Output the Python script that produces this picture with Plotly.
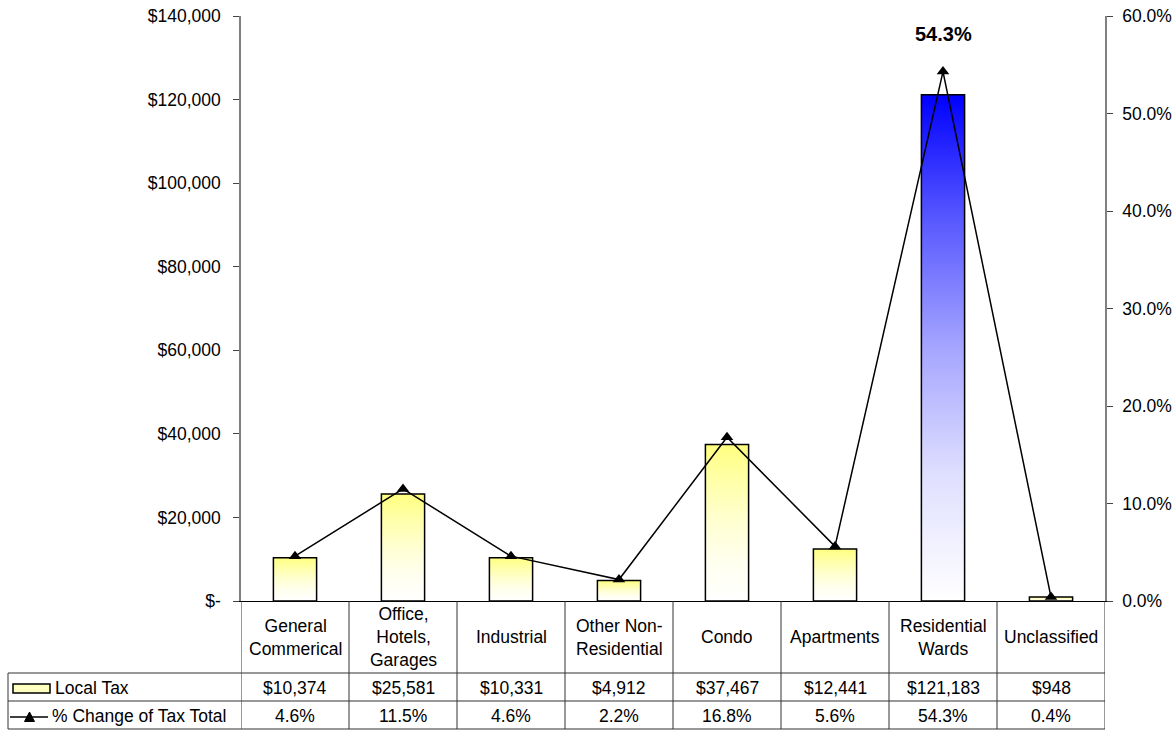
import plotly.graph_objects as go

# ---------------- data ----------------
categories = ["General<br>Commerical", "Office,<br>Hotels,<br>Garages", "Industrial",
              "Other Non-<br>Residential", "Condo", "Apartments",
              "Residential<br>Wards", "Unclassified"]
local_tax = [10374, 25581, 10331, 4912, 37467, 12441, 121183, 948]
pct_change = [0.046, 0.115, 0.046, 0.022, 0.168, 0.056, 0.543, 0.004]
series_names = ["Local Tax", "% Change of Tax Total"]
left_tickvals = [0, 20000, 40000, 60000, 80000, 100000, 120000, 140000]
left_ticktext = ["$-", "$20,000", "$40,000", "$60,000", "$80,000", "$100,000", "$120,000", "$140,000"]

# ---------------- layout constants ----------------
W, H = 1174, 730
L, R, T, B = 241, 1105, 16, 601
FONT = "Liberation Sans, Arial, sans-serif"
FS = 17.5

def px(xp):
    return (xp - L) / (R - L)

def py(yp):
    return (B - yp) / (B - T)

YELLOW_SCALE = [[0, "rgb(255,255,255)"], [0.25, "rgb(255,255,239)"], [0.5, "rgb(255,255,210)"],
                [0.75, "rgb(255,255,172)"], [1, "rgb(255,255,128)"]]
BLUE_SCALE = [[0, "rgb(255,255,255)"], [0.25, "rgb(223,223,255)"], [0.5, "rgb(165,165,255)"],
              [0.75, "rgb(89,89,255)"], [1, "rgb(0,0,255)"]]

fig = go.Figure()

n = len(categories)
hi = local_tax.index(max(local_tax))
half = 0.2
for i, v in enumerate(local_tax):
    fig.add_trace(go.Scatter(
        x=[i - half, i - half, i + half, i + half, i - half],
        y=[0, v, v, 0, 0],
        mode="lines", fill="toself",
        fillgradient=dict(type="vertical", colorscale=BLUE_SCALE if i == hi else YELLOW_SCALE),
        line=dict(color="black", width=1.5),
        hoverinfo="skip", showlegend=False,
    ))

fig.add_trace(go.Scatter(
    x=list(range(n)), y=pct_change, yaxis="y2", mode="lines+markers",
    name=series_names[1],
    line=dict(color="black", width=1.5),
    marker=dict(symbol="triangle-up", size=11, color="black"),
    showlegend=False,
))

pi = pct_change.index(max(pct_change))
annotations = [dict(x=pi, y=pct_change[pi], xref="x", yref="y2", yshift=38, yanchor="middle",
                    text="<b>%.1f%%</b>" % (pct_change[pi] * 100), showarrow=False,
                    font=dict(family=FONT, size=20, color="black"))]

shapes = []
LC = "#333333"
# vertical table lines
for k in range(n + 1):
    shapes.append(dict(type="line", xref="x", yref="paper", x0=k - 0.5, x1=k - 0.5,
                       y0=0, y1=py(729), line=dict(color=LC, width=1)))
# horizontal table lines
for yy in (673, 701, 729):
    shapes.append(dict(type="line", xref="paper", yref="paper", x0=px(8), x1=1,
                       y0=py(yy), y1=py(yy), line=dict(color=LC, width=1)))
shapes.append(dict(type="line", xref="paper", yref="paper", x0=px(8), x1=px(8),
                   y0=py(673), y1=py(729), line=dict(color=LC, width=1)))

# category labels and values
for i in range(n):
    annotations.append(dict(x=i, y=py(637), xref="x", yref="paper", text=categories[i],
                            xanchor="center", yanchor="middle", showarrow=False,
                            font=dict(family=FONT, size=FS, color="black")))
    annotations.append(dict(x=i, y=py(687.5), xref="x", yref="paper", text="${:,}".format(local_tax[i]),
                            xanchor="center", yanchor="middle", showarrow=False,
                            font=dict(family=FONT, size=FS, color="black")))
    annotations.append(dict(x=i, y=py(715.5), xref="x", yref="paper", text="{:.1f}%".format(pct_change[i] * 100),
                            xanchor="center", yanchor="middle", showarrow=False,
                            font=dict(family=FONT, size=FS, color="black")))

# legend keys
shapes.append(dict(type="rect", xref="paper", yref="paper", x0=px(13), x1=px(50), y0=py(693), y1=py(684),
                   fillcolor="#FFFFC0", line=dict(color="black", width=1.5)))
shapes.append(dict(type="line", xref="paper", yref="paper", x0=px(10), x1=px(48), y0=py(717), y1=py(717),
                   line=dict(color="black", width=1.5)))
tri = "M {} {} L {} {} L {} {} Z".format(px(24.5), py(721.5), px(34.5), py(721.5), px(29.5), py(712))
shapes.append(dict(type="path", xref="paper", yref="paper", path=tri, fillcolor="black",
                   line=dict(color="black", width=1)))
annotations.append(dict(x=px(53), y=py(688), xref="paper", yref="paper", xanchor="left", yanchor="middle",
                        text=series_names[0], showarrow=False,
                        font=dict(family=FONT, size=FS, color="black")))
annotations.append(dict(x=px(50), y=py(716), xref="paper", yref="paper", xanchor="left", yanchor="middle",
                        text=series_names[1], showarrow=False,
                        font=dict(family=FONT, size=FS, color="black")))

fig.update_layout(
    width=W, height=H,
    margin=dict(l=L, r=W - R, t=T, b=H - B, autoexpand=False),
    paper_bgcolor="white", plot_bgcolor="white",
    font=dict(family=FONT, size=FS, color="black"),
    showlegend=False,
    xaxis=dict(range=[-0.5, n - 0.5], showticklabels=False, ticks="", showgrid=False,
               zeroline=False, showline=True, linecolor="black", linewidth=1, fixedrange=True,
               automargin=False),
    yaxis=dict(range=[0, 140000], tickvals=left_tickvals, ticktext=left_ticktext,
               ticks="outside", ticklen=6, tickcolor="#444", showgrid=False, zeroline=False,
               showline=True, linecolor="#808080", linewidth=1.5, ticklabelstandoff=9,
               automargin=False,
               tickfont=dict(family=FONT, size=FS, color="black")),
    yaxis2=dict(range=[0, 0.6], overlaying="y", side="right", tickformat=".1%", dtick=0.1,
                tick0=0, ticks="outside", ticklen=6, tickcolor="#444", showgrid=False,
                zeroline=False, showline=True, linecolor="#808080", linewidth=1.5,
                ticklabelstandoff=6, automargin=False,
                tickfont=dict(family=FONT, size=FS, color="black")),
    shapes=shapes,
    annotations=annotations,
)

fig.write_html("out.html")
